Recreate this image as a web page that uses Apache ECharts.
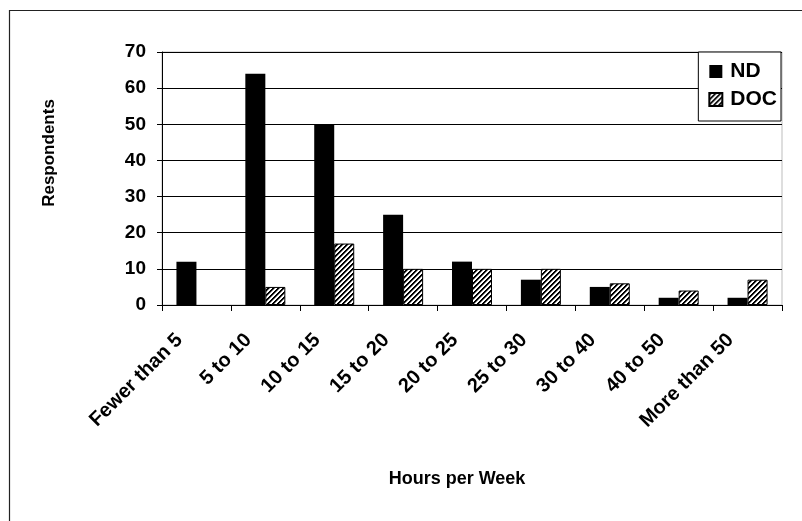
<!DOCTYPE html>
<html>
<head>
<meta charset="utf-8">
<script src="https://cdn.jsdelivr.net/npm/echarts@6/dist/echarts.min.js"></script>
<style>
html,body{margin:0;padding:0;background:#fff;}
#c{width:802px;height:521px;}
</style>
</head>
<body>
<div id="c"></div>
<script>
const categories = ['Fewer than 5','5 to 10','10 to 15','15 to 20','20 to 25','25 to 30','30 to 40','40 to 50','More than 50'];
const ndValues = [12, 64, 50, 25, 12, 7, 5, 2, 2];
const docValues = [0, 5, 17, 10, 10, 10, 6, 4, 7];
const yTicks = [0, 10, 20, 30, 40, 50, 60, 70];
const seriesNames = ['ND', 'DOC'];
const xTitle = 'Hours per Week';
const yTitle = 'Respondents';

function hatch() {
  const P = 5;
  const cv = document.createElement('canvas');
  cv.width = P; cv.height = P;
  const ctx = cv.getContext('2d');
  const img = ctx.createImageData(P, P);
  for (let y = 0; y < P; y++) {
    for (let x = 0; x < P; x++) {
      const m = (x + y) % P;
      let v = 255;
      if (m === 0 || m === 1) v = 0;
      else if (m === 2) v = 140;
      const i = (y * P + x) * 4;
      img.data[i] = v; img.data[i+1] = v; img.data[i+2] = v; img.data[i+3] = 255;
    }
  }
  ctx.putImageData(img, 0, 0);
  return cv;
}

const font = '"Liberation Sans", Arial, sans-serif';
const chart = echarts.init(document.getElementById('c'), null, {renderer: 'canvas'});
chart.setOption({
  backgroundColor: '#fff',
  animation: false,
  textStyle: {fontFamily: font},
  grid: {left: 162, right: 20, top: 52, bottom: 216, show: true, borderColor: '#bdbdbd', borderWidth: 1, backgroundColor: 'transparent'},
  legend: {
    data: seriesNames,
    orient: 'vertical',
    right: 21, top: 52,
    align: 'left',
    backgroundColor: '#fff',
    borderColor: '#000', borderWidth: 1, borderRadius: 0,
    padding: [9, 4, 11, 10],
    itemGap: 7,
    itemWidth: 13, itemHeight: 13,
    icon: 'rect',
    textStyle: {fontFamily: font, fontWeight: 'bold', fontSize: 21, color: '#000', padding: [0,0,0,3]}
  },
  xAxis: {
    type: 'category',
    data: categories,
    boundaryGap: true,
    axisLine: {show: true, lineStyle: {color: '#000', width: 1}},
    axisTick: {show: true, alignWithLabel: false, interval: 0, length: 6, lineStyle: {color: '#000'}},
    axisLabel: {interval: 0, rotate: 45, margin: 15, padding: [0, 24, 0, 0], color: '#000', fontFamily: font, fontWeight: 'bold', fontSize: 20},
    splitLine: {show: false}
  },
  yAxis: {
    type: 'value',
    min: 0, max: 70, interval: 10,
    axisLine: {show: true, lineStyle: {color: '#000', width: 1}},
    axisTick: {show: true, length: 5, lineStyle: {color: '#000'}},
    axisLabel: {margin: 16, color: '#000', fontFamily: font, fontWeight: 'bold', fontSize: 19,
      formatter: v => yTicks.indexOf(v) >= 0 ? String(v) : ''},
    splitLine: {show: true, lineStyle: {color: '#000', width: 1}}
  },
  series: [
    {name: seriesNames[0], type: 'bar', data: ndValues, barWidth: 20, barGap: '0%',
     itemStyle: {color: '#000', borderColor: '#000', borderWidth: 0}},
    {name: seriesNames[1], type: 'bar', data: docValues.map(v => v === 0 ? null : v), barWidth: 20, barGap: '0%',
     itemStyle: {color: {image: hatch(), repeat: 'repeat'}, borderColor: '#000', borderWidth: 1}}
  ],
  graphic: [
    {type: 'rect', shape: {x: 9.5, y: 10.5, width: 900, height: 700}, style: {fill: 'none', stroke: '#222', lineWidth: 1.2}, silent: true, z: 100},
    {type: 'text', x: 49, y: 153, rotation: Math.PI / 2, style: {text: yTitle, font: 'bold 17px ' + font, fill: '#000', textAlign: 'center', textVerticalAlign: 'middle'}},
    {type: 'text', x: 457, y: 479, style: {text: xTitle, font: 'bold 18px ' + font, fill: '#000', textAlign: 'center', textVerticalAlign: 'middle'}}
  ]
});
</script>
</body>
</html>
